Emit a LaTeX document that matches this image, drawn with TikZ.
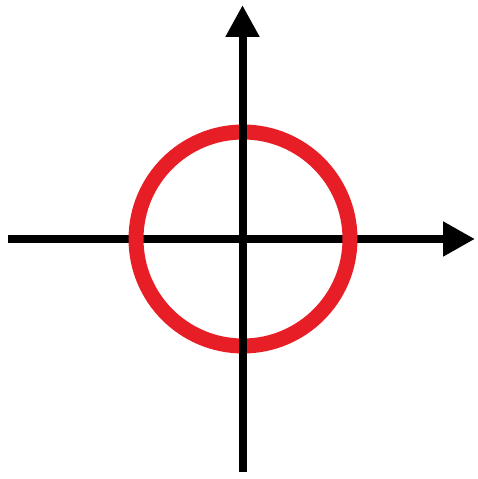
\documentclass[tikz,border=0pt]{standalone}
\usepackage{tikz}
\usetikzlibrary{arrows.meta}
\usepackage{xcolor}

\definecolor{ringred}{RGB}{232,30,38}

\begin{document}
\begin{tikzpicture}[x=1pt, y=1pt]
        \useasboundingbox (0,0) rectangle (477,479);

        \draw[line width = 8pt, -{Triangle[length=32pt, width=33pt]}] (8,240) -- (475,240);

        \draw[ringred, line width = 15pt] (243,240) circle (107);

        \draw[line width = 8pt, -{Triangle[length=32pt, width=32pt]}] (242.5,7) -- (242.5,474);

    \end{tikzpicture}
\end{document}
